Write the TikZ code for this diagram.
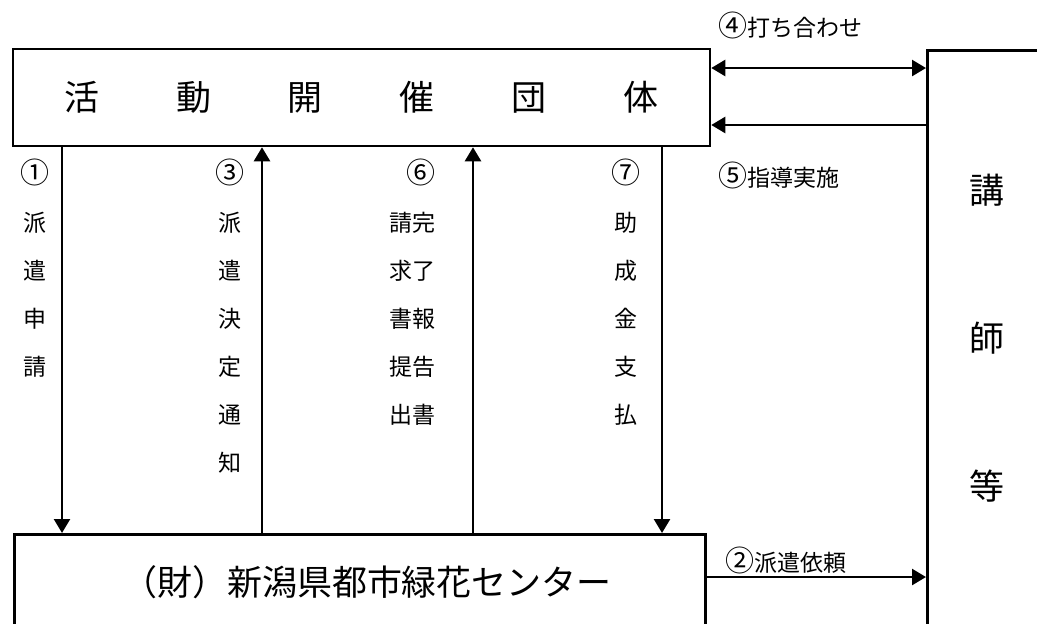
\documentclass[tikz,border=0pt]{standalone}
\usepackage{fontspec}
\setmainfont{Noto Sans CJK JP}
\usetikzlibrary{arrows.meta}
\newcommand{\circnum}[1]{{\fontsize{29}{48}\selectfont #1}}
\begin{document}
\begin{tikzpicture}[
  x=1pt, y=-1pt,
  box/.style={rectangle, draw, line width=2.5pt, inner sep=0pt},
  arr/.style={line width=2.5pt, -{Triangle[length=14pt,width=16pt]}},
  biarr/.style={line width=2.5pt, {Triangle[length=14pt,width=16pt]}-{Triangle[length=14pt,width=16pt]}},
  bigtext/.style={font=\fontsize{35}{148}\selectfont, inner sep=0pt, align=center},
  small/.style={font=\fontsize{23}{48}\selectfont, inner sep=0pt, align=center}
]
  \clip (0,0) rectangle (1037,624);
  % boxes
  \node[box, bigtext, minimum width=697pt, minimum height=97pt] (group) at (361.5,97.5)
    {活\hspace{77pt}動\hspace{77pt}開\hspace{77pt}催\hspace{77pt}団\hspace{77pt}体};
  \node[box, minimum width=130pt, minimum height=600pt, anchor=north west] (lecturer) at (926,49) {};
  \node[box, minimum width=691pt, minimum height=120pt, anchor=north west] (center) at (13,533) {};
  \node[bigtext] (lecturertext) at (987,338) {講\\師\\等};
  \node[bigtext] (centertext) at (367,582) {（財）新潟県都市緑花センター};

  % horizontal arrows
  \coordinate (r4) at (0,68);
  \coordinate (r5) at (0,125);
  \coordinate (r2) at (0,577);
  \draw[biarr] (r4 -| group.east) -- (r4 -| lecturer.west);
  \draw[arr] (r5 -| lecturer.west) -- (r5 -| group.east);
  \draw[arr] (r2 -| center.east) -- (r2 -| lecturer.west);
  \node[small, anchor=west] (l4) at (718,25) {\circnum{④}打ち合わせ};
  \node[small, anchor=west] (l5) at (718,175) {\circnum{⑤}指導実施};
  \node[small, anchor=west] (l2) at (725,560) {\circnum{②}派遣依頼};

  % vertical arrows
  \coordinate (c1) at (62,0);
  \coordinate (c3) at (262,0);
  \coordinate (c6) at (473,0);
  \coordinate (c7) at (662,0);
  \draw[arr] (c1 |- group.south) -- (c1 |- center.north);
  \draw[arr] (c3 |- center.north) -- (c3 |- group.south);
  \draw[arr] (c6 |- center.north) -- (c6 |- group.south);
  \draw[arr] (c7 |- group.south) -- (c7 |- center.north);
  \node[small, anchor=north] (l1) at (35,159) {\circnum{①}\\派\\遣\\申\\請};
  \node[small, anchor=north] (l3) at (230,159) {\circnum{③}\\派\\遣\\決\\定\\通\\知};
  \node[small, anchor=north, align=right] (l6) at (412,159) {\circnum{⑥}\\請完\\求了\\書報\\提告\\出書};
  \node[small, anchor=north] (l7) at (626,159) {\circnum{⑦}\\助\\成\\金\\支\\払};
\end{tikzpicture}
\end{document}
